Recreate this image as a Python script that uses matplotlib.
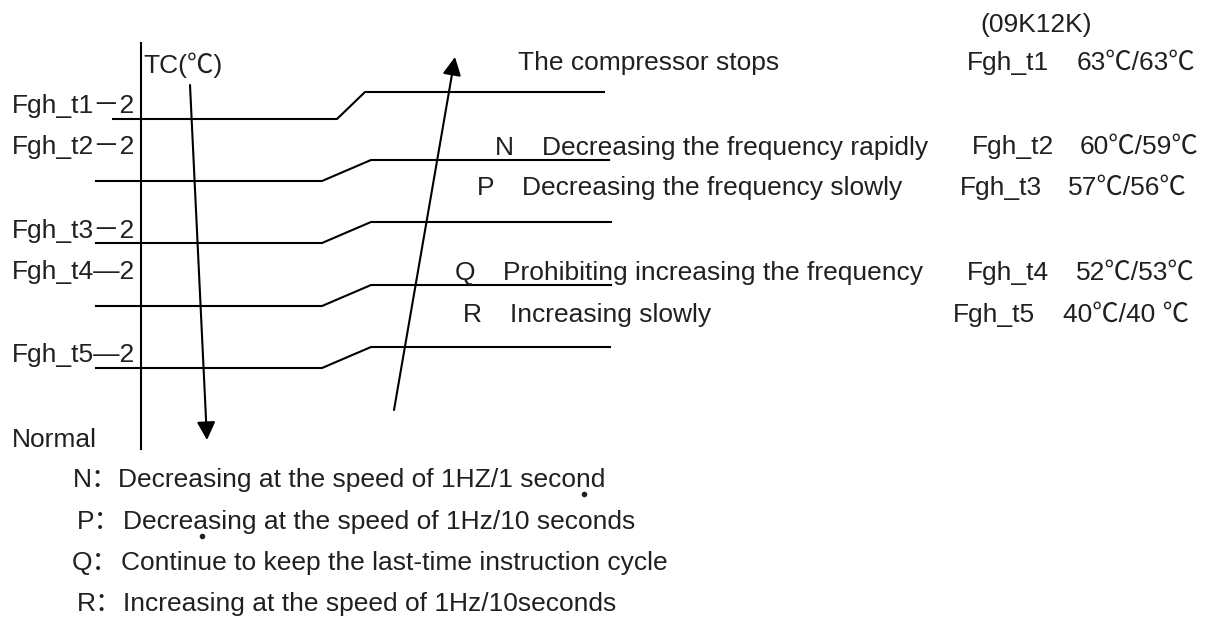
"""
Frequency limit zones for the compressor (TC temperature protection).
Redraws the hysteresis diagram as out.png.
"""
import matplotlib
matplotlib.use("Agg")
import matplotlib.pyplot as plt

plt.rcParams['font.family'] = ['Liberation Sans', 'Noto Sans CJK SC', 'DejaVu Sans']

# --- content -------------------------------------------------------------
model = "(09K12K)"
levels = ["Fgh_t1", "Fgh_t2", "Fgh_t3", "Fgh_t4", "Fgh_t5"]
level_dash = ["－", "－", "－", "—", "—"]
temps = ["63℃/63℃", "60℃/59℃", "57℃/56℃", "52℃/53℃", "40℃/40 ℃"]
stop_text = "The compressor stops"
zones = ["N", "P", "Q", "R"]
zone_desc = ["Decreasing the frequency rapidly",
             "Decreasing the frequency slowly",
             "Prohibiting increasing the frequency",
             "Increasing slowly"]
notes = ["Decreasing at the speed of 1HZ/1 second",
         "Decreasing at the speed of 1Hz/10 seconds",
         "Continue to keep the last-time instruction cycle",
         "Increasing at the speed of 1Hz/10seconds"]

# --- layout (pixels, y down) ----------------------------------------------
lower_y = [119, 181, 243, 306, 368]
upper_y = [92, 160, 222, 285, 347]
lower_x0 = [113, 96, 96, 96, 96]
lower_x1 = [337, 322, 322, 322, 322]
upper_x0 = [365, 371, 371, 371, 371]
upper_x1 = [604, 609, 611, 611, 610]
label_y = [106, 147, 231, 272, 355]
right_y = [63, 147, 188, 273, 315]
right_x = [967, 972, 960, 967, 953]
temp_x = [1077, 1080, 1068, 1076, 1063]
zone_y = [148, 188, 273, 315]
zone_x = [495, 477, 455, 463]
desc_x = [542, 522, 503, 510]
note_y = [480, 522, 563, 604]
note_x = [73, 77, 72, 77]
note_text_x = [118, 123, 121, 123]

FS = 19
TXT = '#231f20'
LW = 1.5

fig = plt.figure(figsize=(12.13, 6.21), dpi=100)
ax = fig.add_axes([0, 0, 1, 1])
ax.set_xlim(0, 1213)
ax.set_ylim(621, 0)
ax.axis('off')

# temperature axis
ax.plot([141, 141], [43, 449], color='black', lw=LW)
ax.text(143, 65, "TC(℃)", fontsize=FS, color=TXT, va='center', ha='left')

# hysteresis steps
for i in range(len(levels)):
    ax.plot([lower_x0[i], lower_x1[i], upper_x0[i], upper_x1[i]],
            [lower_y[i], lower_y[i], upper_y[i], upper_y[i]],
            color='black', lw=LW)
    ax.text(12, label_y[i], levels[i] + level_dash[i] + "2",
            fontsize=FS, color=TXT, va='center', ha='left')
    ax.text(right_x[i], right_y[i], levels[i], fontsize=FS, color=TXT,
            va='center', ha='left')
    ax.text(temp_x[i], right_y[i], temps[i], fontsize=FS, color=TXT,
            va='center', ha='left')

ax.text(1036, 25, model, fontsize=FS, color=TXT, va='center', ha='center')
ax.text(518, 63, stop_text, fontsize=FS, color=TXT, va='center', ha='left')

for i in range(len(zones)):
    ax.text(zone_x[i], zone_y[i], zones[i], fontsize=FS, color=TXT,
            va='center', ha='left')
    ax.text(desc_x[i], zone_y[i], zone_desc[i], fontsize=FS, color=TXT,
            va='center', ha='left')

ax.text(12, 440, "Normal", fontsize=FS, color=TXT, va='center', ha='left')

# falling / rising arrows
arrow = dict(arrowstyle='-|>,head_length=0.55,head_width=0.28',
             mutation_scale=20, lw=LW, color='black',
             shrinkA=0, shrinkB=0)
ax.annotate('', xy=(207, 440), xytext=(190, 85), arrowprops=arrow)
ax.annotate('', xy=(455, 57), xytext=(394, 410), arrowprops=arrow)

# notes
for i in range(len(zones)):
    ax.text(note_x[i], note_y[i], zones[i] + "：", fontsize=FS, color=TXT,
            va='center', ha='left')
    ax.text(note_text_x[i], note_y[i], notes[i], fontsize=FS, color=TXT,
            va='center', ha='left')

# emphasis dots
ax.plot([584, 202], [494, 536], 'o', ms=3, color=TXT)

fig.savefig('out.png', dpi=100)
